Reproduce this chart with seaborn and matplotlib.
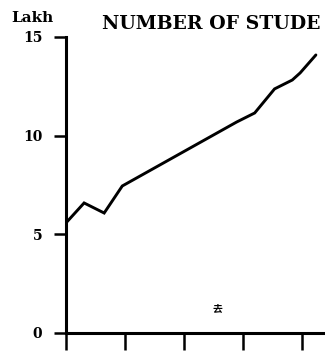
import matplotlib
matplotlib.use("Agg")
import matplotlib.pyplot as plt
import seaborn as sns
import pandas as pd

# Enrolment (lakh) over the period; x in years from the start
years = [0.0, 0.92, 1.94, 2.86, 8.67, 9.59, 10.6, 11.5, 11.9, 12.7]
students_lakh = [5.58, 6.59, 6.08, 7.45, 10.69, 11.15, 12.37, 12.82, 13.18, 14.09]
y_ticks = [0, 5, 10, 15]
x_ticks = [0, 3, 6, 9, 12]
title = "NUMBER OF STUDE"

df = pd.DataFrame({"year": years, "students": students_lakh})

sns.set_theme(style="white")
plt.rcParams["font.family"] = ["DejaVu Serif", "Noto Sans CJK SC"]
plt.rcParams["text.color"] = "black"

fig = plt.figure(figsize=(3.25, 3.52), dpi=100)
W, H = 325, 352
ax = fig.add_axes([66 / W, (H - 333) / H, (W - 66) / W, (333 - 37) / H])

sns.lineplot(data=df, x="year", y="students", ax=ax, color="black",
             linewidth=2.1, solid_joinstyle="miter")

ax.set_xlim(0, (W - 67) / 19.6)
ax.set_ylim(0, 15)
ax.set_xticks(x_ticks)
ax.set_xticklabels([])
ax.set_yticks(y_ticks)
ax.set_yticklabels([str(v) for v in y_ticks], fontsize=10, fontweight="bold",
                   color="black")
ax.set_xlabel("")
ax.set_ylabel("")

for side in ("top", "right"):
    ax.spines[side].set_visible(False)
for side in ("left", "bottom"):
    ax.spines[side].set_linewidth(2.2)
    ax.spines[side].set_color("black")

ax.tick_params(axis="y", direction="out", length=9, width=1.8, pad=8,
               left=True, colors="black")
ax.tick_params(axis="x", direction="out", length=12, width=1.8,
               bottom=True, colors="black")

fig.text(32 / W, 1 - 18 / H, "Lakh", fontsize=11, fontweight="bold",
         ha="center", va="center", color="black")
fig.text(102 / W, 1 - 24 / H, title, fontsize=13.6,
         fontweight="bold", ha="left", va="center", color="black")
fig.text(217 / W, 1 - 309 / H, "去", fontsize=7, fontweight="bold",
         ha="center", va="center", color="black",
         family=["Noto Sans CJK SC", "DejaVu Sans"])

fig.savefig("out.png", dpi=100)
